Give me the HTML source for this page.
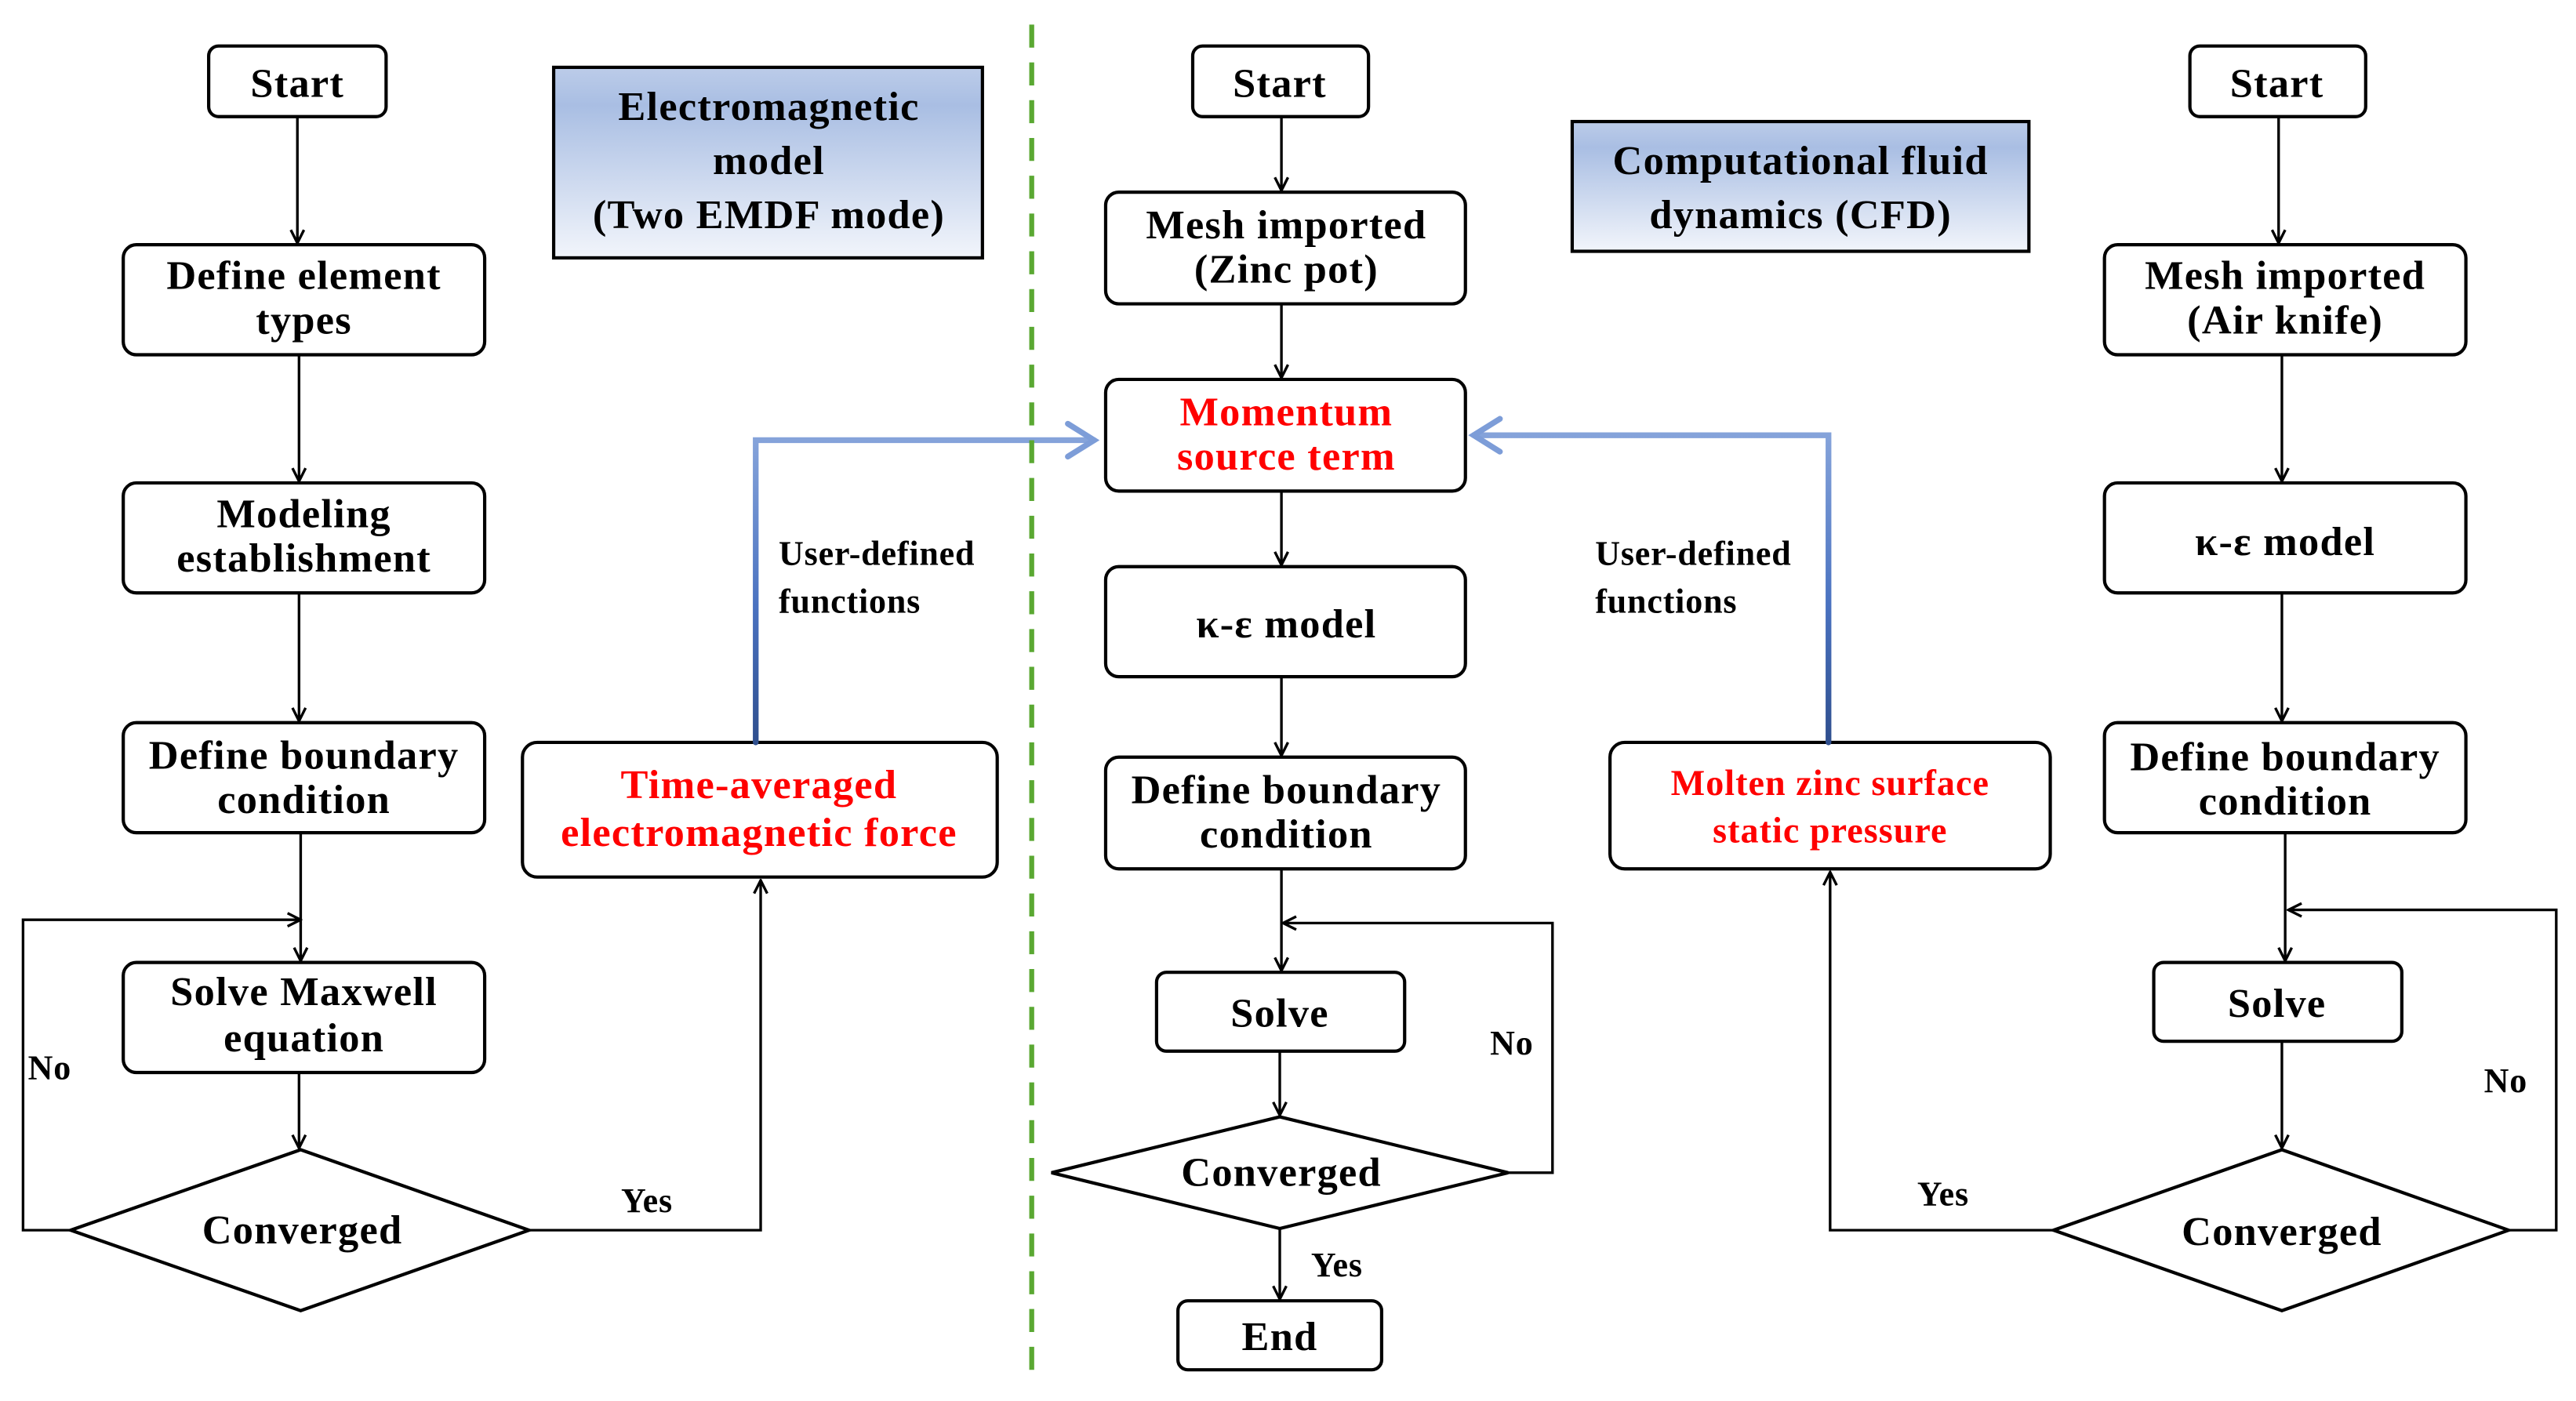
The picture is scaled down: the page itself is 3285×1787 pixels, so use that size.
<!DOCTYPE html>
<html><head><meta charset="utf-8"><style>
html,body{margin:0;padding:0;background:#fff;}
svg{display:block;}
text{font-family:"Liberation Serif","DejaVu Serif",serif;font-weight:bold;text-anchor:middle;}
text.s{text-anchor:start;}
</style></head><body>
<svg width="3285" height="1787" viewBox="0 0 1568 853" xmlns="http://www.w3.org/2000/svg" font-family="Liberation Serif, DejaVu Serif, serif" font-weight="bold">
<defs>
<linearGradient id="bg" x1="0" y1="0" x2="0" y2="1">
<stop offset="0" stop-color="#bccce9"/><stop offset="0.2" stop-color="#a9bee3"/><stop offset="1" stop-color="#f2f5fb"/>
</linearGradient>
<linearGradient id="bl" x1="0" y1="0" x2="0" y2="1">
<stop offset="0" stop-color="#85a3da"/><stop offset="0.55" stop-color="#4a72c0"/><stop offset="1" stop-color="#2f4f8e"/>
</linearGradient>
<marker id="ah" markerWidth="10" markerHeight="10" refX="9" refY="5" orient="auto" markerUnits="userSpaceOnUse">
<path d="M1,1 L9,5 L1,9" fill="none" stroke="#000" stroke-width="1.6"/>
</marker>
</defs>
<g fill="none" stroke="#000" stroke-width="2">
<rect x="127" y="28" width="108" height="43" rx="6"/>
<rect x="75" y="149" width="220" height="67" rx="8"/>
<rect x="75" y="294" width="220" height="67" rx="8"/>
<rect x="75" y="440" width="220" height="67" rx="8"/>
<rect x="75" y="586" width="220" height="67" rx="8"/>
<polygon points="43,749 183,700 322,749 183,798"/>
<rect x="318" y="452" width="289" height="82" rx="9"/>
<rect x="726" y="28" width="107" height="43" rx="6"/>
<rect x="673" y="117" width="219" height="68" rx="8"/>
<rect x="673" y="231" width="219" height="68" rx="8"/>
<rect x="673" y="345" width="219" height="67" rx="8"/>
<rect x="673" y="461" width="219" height="68" rx="8"/>
<rect x="704" y="592" width="151" height="48" rx="6"/>
<polygon points="640,714 779,680 918,714 779,748"/>
<rect x="717" y="792" width="124" height="42" rx="6"/>
<rect x="980" y="452" width="268" height="77" rx="9"/>
<rect x="1333" y="28" width="107" height="43" rx="6"/>
<rect x="1281" y="149" width="220" height="67" rx="8"/>
<rect x="1281" y="294" width="220" height="67" rx="8"/>
<rect x="1281" y="440" width="220" height="67" rx="8"/>
<rect x="1311" y="586" width="151" height="48" rx="6"/>
<polygon points="1250,749 1389,700 1527,749 1389,798"/>
</g>
<rect x="337" y="41" width="261" height="116" fill="url(#bg)" stroke="#000" stroke-width="2"/>
<rect x="957" y="74" width="278" height="79" fill="url(#bg)" stroke="#000" stroke-width="2"/>
<g fill="none" stroke="#000" stroke-width="1.6" marker-end="url(#ah)">
<line x1="181" y1="71" x2="181" y2="148"/>
<line x1="182" y1="216" x2="182" y2="293"/>
<line x1="182" y1="361" x2="182" y2="439"/>
<line x1="183" y1="507" x2="183" y2="585"/>
<line x1="182" y1="653" x2="182" y2="699"/>
<polyline points="43,749 14,749 14,560 183,560"/>
<polyline points="322,749 463,749 463,536"/>
<line x1="780" y1="71" x2="780" y2="116"/>
<line x1="780" y1="185" x2="780" y2="230"/>
<line x1="780" y1="299" x2="780" y2="344"/>
<line x1="780" y1="412" x2="780" y2="460"/>
<line x1="780" y1="529" x2="780" y2="591"/>
<line x1="779" y1="640" x2="779" y2="679"/>
<line x1="779" y1="748" x2="779" y2="791"/>
<polyline points="918,714 945,714 945,562 781,562"/>
<line x1="1387" y1="71" x2="1387" y2="148"/>
<line x1="1389" y1="216" x2="1389" y2="293"/>
<line x1="1389" y1="361" x2="1389" y2="439"/>
<line x1="1391" y1="507" x2="1391" y2="585"/>
<line x1="1389" y1="634" x2="1389" y2="699"/>
<polyline points="1527,749 1556,749 1556,554 1393,554"/>
<polyline points="1250,749 1114,749 1114,531"/>
</g>
<g fill="none" stroke-width="3.5" stroke-linecap="round">
<polyline points="460,452 460,268 666,268" stroke="url(#bl)"/>
<polyline points="650,258 666,268 650,278" stroke="#7d9dd8"/>
<polyline points="1113,452 1113,265 897,265" stroke="url(#bl)"/>
<polyline points="913,255 897,265 913,275" stroke="#7d9dd8"/>
</g>
<line x1="628" y1="15" x2="628" y2="836" stroke="#5aa832" stroke-width="3" stroke-dasharray="14,9"/>
<g font-size="25" fill="#000" letter-spacing="0.6">
<text x="181" y="59">Start</text>
<text x="185" y="176">Define element</text><text x="185" y="203">types</text>
<text x="185" y="321">Modeling</text><text x="185" y="348">establishment</text>
<text x="185" y="468">Define boundary</text><text x="185" y="495">condition</text>
<text x="185" y="612">Solve Maxwell</text><text x="185" y="640">equation</text>
<text x="184" y="757">Converged</text>
<text x="468" y="73">Electromagnetic</text><text x="468" y="106">model</text><text x="468" y="139">(Two EMDF mode)</text>
<text x="779" y="59">Start</text>
<text x="783" y="145">Mesh imported</text><text x="783" y="172">(Zinc pot)</text>
<text x="783" y="388">κ-ε model</text>
<text x="783" y="489">Define boundary</text><text x="783" y="516">condition</text>
<text x="779" y="625">Solve</text>
<text x="780" y="722">Converged</text>
<text x="779" y="822">End</text>
<text x="1096" y="106">Computational  fluid</text><text x="1096" y="139">dynamics (CFD)</text>
<text x="1386" y="59">Start</text>
<text x="1391" y="176">Mesh imported</text><text x="1391" y="203">(Air knife)</text>
<text x="1391" y="338">κ-ε model</text>
<text x="1391" y="469">Define boundary</text><text x="1391" y="496">condition</text>
<text x="1386" y="619">Solve</text>
<text x="1389" y="758">Converged</text>
</g>
<g font-size="25" fill="#ff0000" letter-spacing="0.6">
<text x="783" y="259">Momentum</text><text x="783" y="286">source term</text>
<text x="462" y="486">Time-averaged</text><text x="462" y="515">electromagnetic force</text>
</g>
<g font-size="22" fill="#ff0000" letter-spacing="0.5">
<text x="1114" y="484">Molten zinc surface</text><text x="1114" y="513">static pressure</text>
</g>
<g font-size="21" fill="#000" letter-spacing="0.4">
<text class="s" x="474" y="344">User-defined</text><text class="s" x="474" y="373">functions</text>
<text class="s" x="971" y="344">User-defined</text><text class="s" x="971" y="373">functions</text>
<text class="s" x="17" y="657">No</text>
<text class="s" x="378" y="738">Yes</text>
<text class="s" x="907" y="642">No</text>
<text class="s" x="798" y="777">Yes</text>
<text class="s" x="1512" y="665">No</text>
<text class="s" x="1167" y="734">Yes</text>
</g>
</svg>
</body></html>
